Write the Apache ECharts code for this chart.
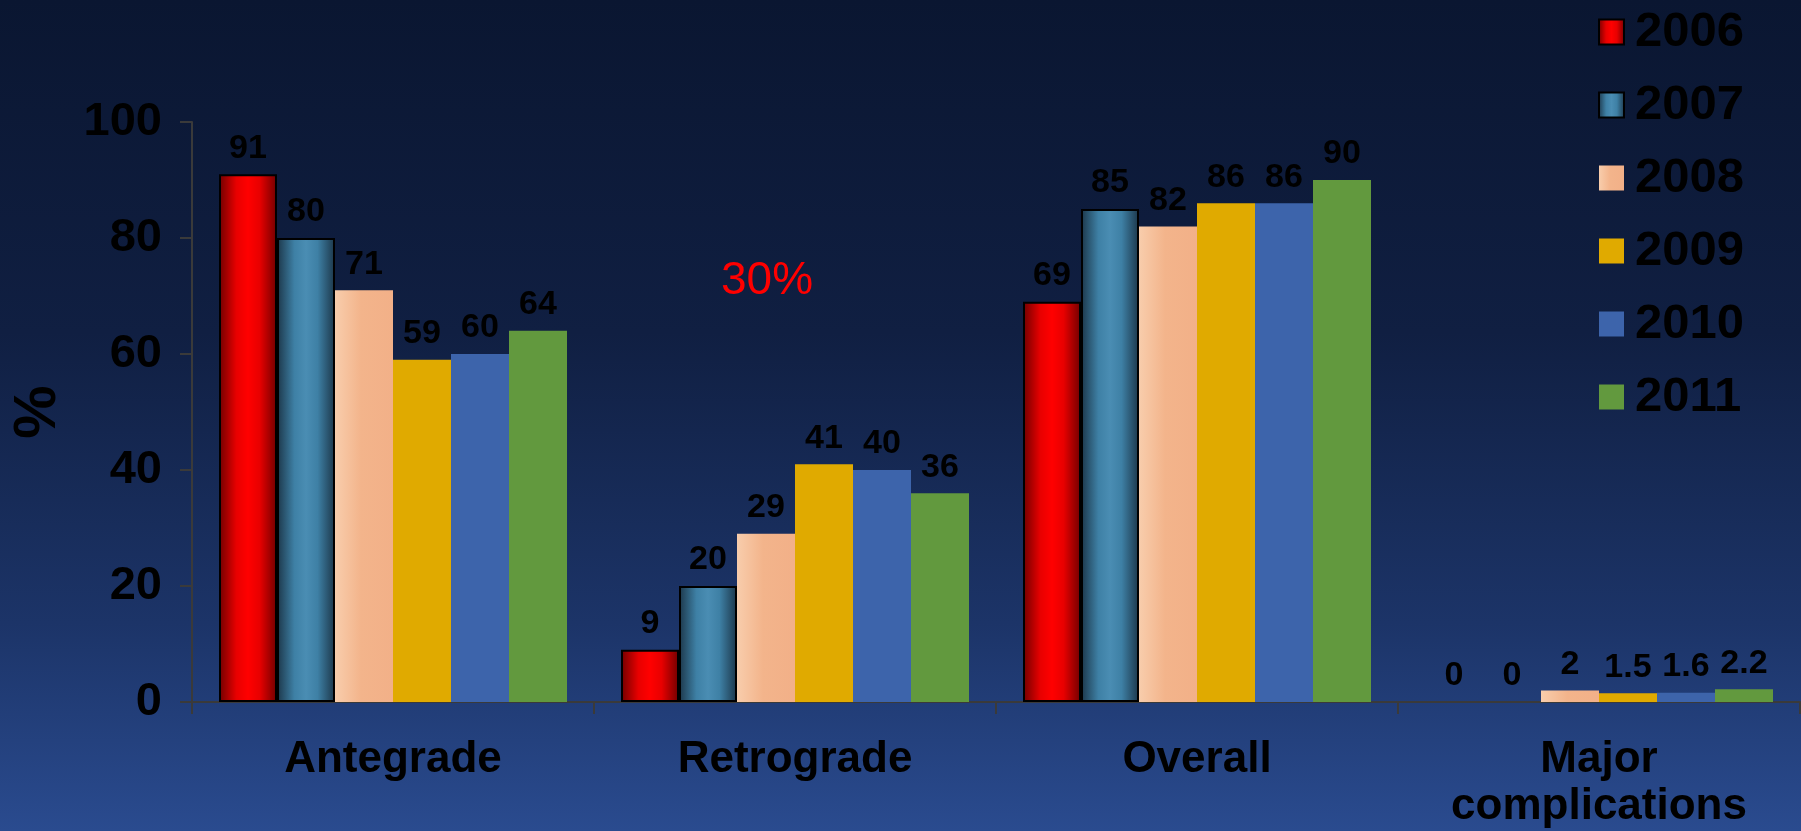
<!DOCTYPE html>
<html>
<head>
<meta charset="utf-8">
<script src="https://cdn.jsdelivr.net/npm/echarts@6/dist/echarts.min.js"></script>
<style>
html,body{margin:0;padding:0;background:#0a1630;}
#c{width:1801px;height:831px;}
</style>
</head>
<body>
<div id="c"></div>
<script>
const categories = ['Antegrade', 'Retrograde', 'Overall', 'Major\ncomplications'];
const years = ['2006', '2007', '2008', '2009', '2010', '2011'];
const v2006 = [91, 9, 69, 0];
const v2007 = [80, 20, 85, 0];
const v2008 = [71, 29, 82, 2];
const v2009 = [59, 41, 86, 1.5];
const v2010 = [60, 40, 86, 1.6];
const v2011 = [64, 36, 90, 2.2];
const yTicks = [0, 20, 40, 60, 80, 100];

const FONT = '"Liberation Sans", Arial, Helvetica, sans-serif';

function hgrad(stops) {
  return new echarts.graphic.LinearGradient(0, 0, 1, 0,
    stops.map(s => ({offset: s[0], color: s[1]})));
}

const styles = [
  {color: hgrad([[0, '#700000'], [0.3, '#e80000'], [0.5, '#ff0000'], [0.7, '#e80000'], [1, '#700000']]), borderColor: '#000', borderWidth: 2},
  {color: hgrad([[0, '#1c3649'], [0.3, '#3e80a5'], [0.5, '#4a8db3'], [0.7, '#3e80a5'], [1, '#1c3649']]), borderColor: '#000', borderWidth: 2},
  {color: hgrad([[0, '#f8cdac'], [0.45, '#f3b48b'], [1, '#f2b088']])},
  {color: '#e0aa00'},
  {color: '#3d64ab'},
  {color: '#62993e'}
];
const values = [v2006, v2007, v2008, v2009, v2010, v2011];

const series = years.map((y, i) => ({
  name: y,
  type: 'bar',
  data: values[i].map(v => v === 0 ? {value: v, itemStyle: {borderWidth: 0}} : v),
  barWidth: 58,
  barGap: '0%',
  itemStyle: styles[i],
  label: {
    show: true,
    position: 'top',
    distance: 9,
    color: '#000',
    fontFamily: FONT,
    fontWeight: 'bold',
    fontSize: 34
  },
  emphasis: {disabled: true}
}));

const chart = echarts.init(document.getElementById('c'), null, {renderer: 'canvas'});
chart.setOption({
  animation: false,
  backgroundColor: new echarts.graphic.LinearGradient(0, 0, 0, 1, [
    {offset: 0, color: '#0a1631'},
    {offset: 0.4, color: '#101f42'},
    {offset: 0.75, color: '#1c3468'},
    {offset: 1, color: '#2a4b8f'}
  ]),
  textStyle: {fontFamily: FONT},
  legend: {
    orient: 'vertical',
    left: 1593,
    top: 2,
    itemWidth: 25,
    itemHeight: 25,
    itemGap: 23,
    icon: 'rect',
    data: years,
    textStyle: {
      color: '#000',
      fontFamily: FONT,
      fontWeight: 'bold',
      fontSize: 49,
      lineHeight: 50,
      padding: [0, 0, 0, 6]
    },
    selectedMode: false
  },
  grid: {left: 191, right: 1, top: 122, bottom: 129, containLabel: false},
  xAxis: {
    type: 'category',
    data: categories,
    axisLine: {lineStyle: {color: '#3a3a3a', width: 2}},
    axisTick: {show: true, length: 12, lineStyle: {color: '#3a3a3a', width: 2}},
    axisLabel: {
      color: '#000',
      fontFamily: FONT,
      fontWeight: 'bold',
      fontSize: 44,
      lineHeight: 47,
      margin: 34,
      interval: 0
    }
  },
  yAxis: {
    type: 'value',
    min: yTicks[0],
    max: yTicks[yTicks.length - 1],
    interval: 20,
    name: '%',
    nameLocation: 'middle',
    nameRotate: 90,
    nameGap: 124,
    nameTextStyle: {color: '#000', fontFamily: FONT, fontWeight: 'bold', fontSize: 60},
    splitLine: {show: false},
    axisLine: {show: true, lineStyle: {color: '#3a3a3a', width: 2}},
    axisTick: {show: true, length: 12, lineStyle: {color: '#3a3a3a', width: 2}},
    axisLabel: {
      color: '#000',
      fontFamily: FONT,
      fontWeight: 'bold',
      fontSize: 47,
      margin: 30
    }
  },
  graphic: [{
    type: 'text',
    x: 767,
    y: 281,
    style: {
      text: '30%',
      fill: '#ff0000',
      font: '46px ' + FONT,
      textAlign: 'center',
      textVerticalAlign: 'middle'
    }
  }],
  series: series
});
</script>
</body>
</html>
